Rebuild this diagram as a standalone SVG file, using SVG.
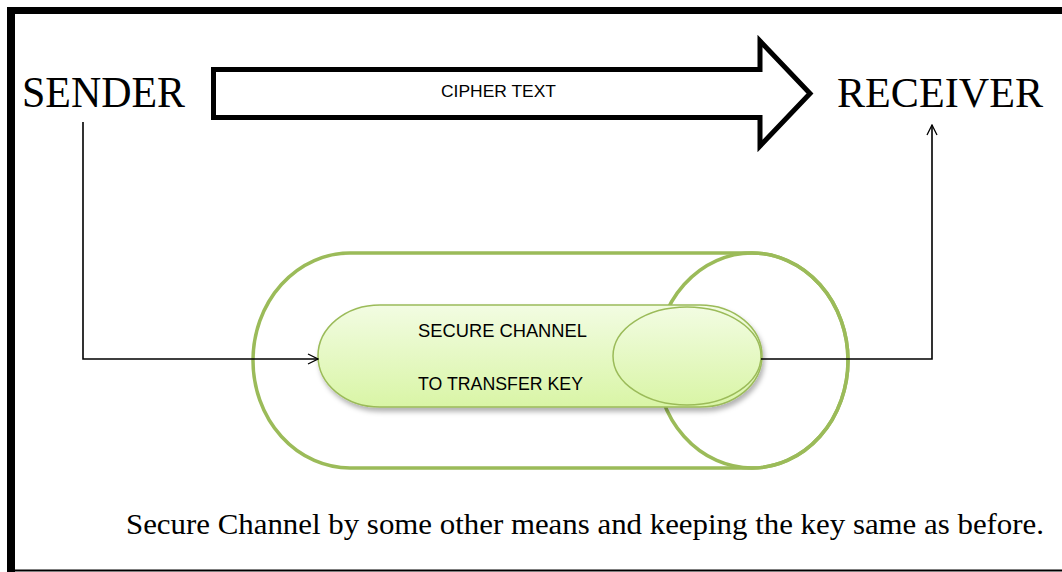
<svg xmlns="http://www.w3.org/2000/svg" width="1062" height="572" viewBox="0 0 1062 572">
  <style>
    .label-serif { font-family: "Liberation Serif", "Times New Roman", serif; fill: #000; }
    .label-sans { font-family: "Liberation Sans", Arial, sans-serif; fill: #000; }
    .green-outline { fill: none; stroke: #9bbb59; stroke-width: 3.5; }
    .pill { fill: url(#pillFill); stroke: #9bbb59; stroke-width: 1.5; }
    .connector { fill: none; stroke: #000; stroke-width: 1.6; }
  </style>
  <defs>
    <linearGradient id="pillFill" x1="0" y1="0" x2="0" y2="1">
      <stop offset="0" stop-color="#f2fce2"/>
      <stop offset="1" stop-color="#d9f5a6"/>
    </linearGradient>
    <filter id="softShadow" x="-10%" y="-20%" width="120%" height="150%">
      <feDropShadow dx="2" dy="4" stdDeviation="2.5" flood-color="#000" flood-opacity="0.3"/>
    </filter>
    <marker id="openArrow" viewBox="0 0 12 12" refX="11" refY="6" markerWidth="12" markerHeight="12" markerUnits="userSpaceOnUse" orient="auto">
      <path d="M1 1 L11 6 L1 11" fill="none" stroke="#000" stroke-width="1.3"/>
    </marker>
  </defs>

  <rect width="1062" height="572" fill="#fff"/>

  <!-- page frame -->
  <g id="frame" fill="#000">
    <rect x="7" y="7" width="8" height="565"/>
    <rect x="7" y="7" width="1055" height="7"/>
    <rect x="15" y="569.5" width="1047" height="2"/>
  </g>

  <!-- sender -->
  <g id="sender">
    <text class="label-serif" x="22" y="107" font-size="44" textLength="163" lengthAdjust="spacingAndGlyphs">SENDER</text>
  </g>

  <!-- receiver -->
  <g id="receiver">
    <text class="label-serif" x="837" y="107" font-size="42" textLength="206" lengthAdjust="spacingAndGlyphs">RECEIVER</text>
  </g>

  <!-- cipher text block arrow -->
  <g id="cipher-text">
    <path d="M213.5 69.5 H760 V41 L810 93.5 L760 146 V117.5 H213.5 Z" fill="#fff" stroke="#000" stroke-width="5" stroke-linejoin="miter"/>
    <text class="label-sans" x="441" y="97" font-size="17" textLength="115" lengthAdjust="spacingAndGlyphs">CIPHER TEXT</text>
  </g>

  <!-- secure channel enclosure -->
  <g id="secure-channel">
    <path class="green-outline" d="M350 253 H752 A96 107.5 0 0 1 752 468 H350 A97 107.5 0 0 1 350 253 Z"/>
    <ellipse class="green-outline" cx="752" cy="360.5" rx="96" ry="107.5"/>
  </g>

  <!-- key transfer pill -->
  <g id="key-transfer">
    <rect class="pill" x="318" y="305" width="444" height="102" rx="62" ry="51" filter="url(#softShadow)"/>
    <ellipse class="pill" cx="687" cy="356" rx="74" ry="49" stroke-width="1.2"/>
    <text class="label-sans" x="418" y="337" font-size="18" textLength="169" lengthAdjust="spacingAndGlyphs">SECURE CHANNEL</text>
    <text class="label-sans" x="418" y="390" font-size="18" textLength="165" lengthAdjust="spacingAndGlyphs">TO TRANSFER KEY</text>
  </g>

  <!-- connectors -->
  <g id="connectors">
    <polyline class="connector" points="83,122 83,359 318,359" marker-end="url(#openArrow)"/>
    <polyline class="connector" points="761,359 932,359 932,125" marker-end="url(#openArrow)"/>
  </g>

  <!-- caption -->
  <g id="caption">
    <text class="label-serif" x="126" y="534" font-size="30" textLength="918" lengthAdjust="spacingAndGlyphs">Secure Channel by some other means and keeping the key same as before.</text>
  </g>
</svg>
